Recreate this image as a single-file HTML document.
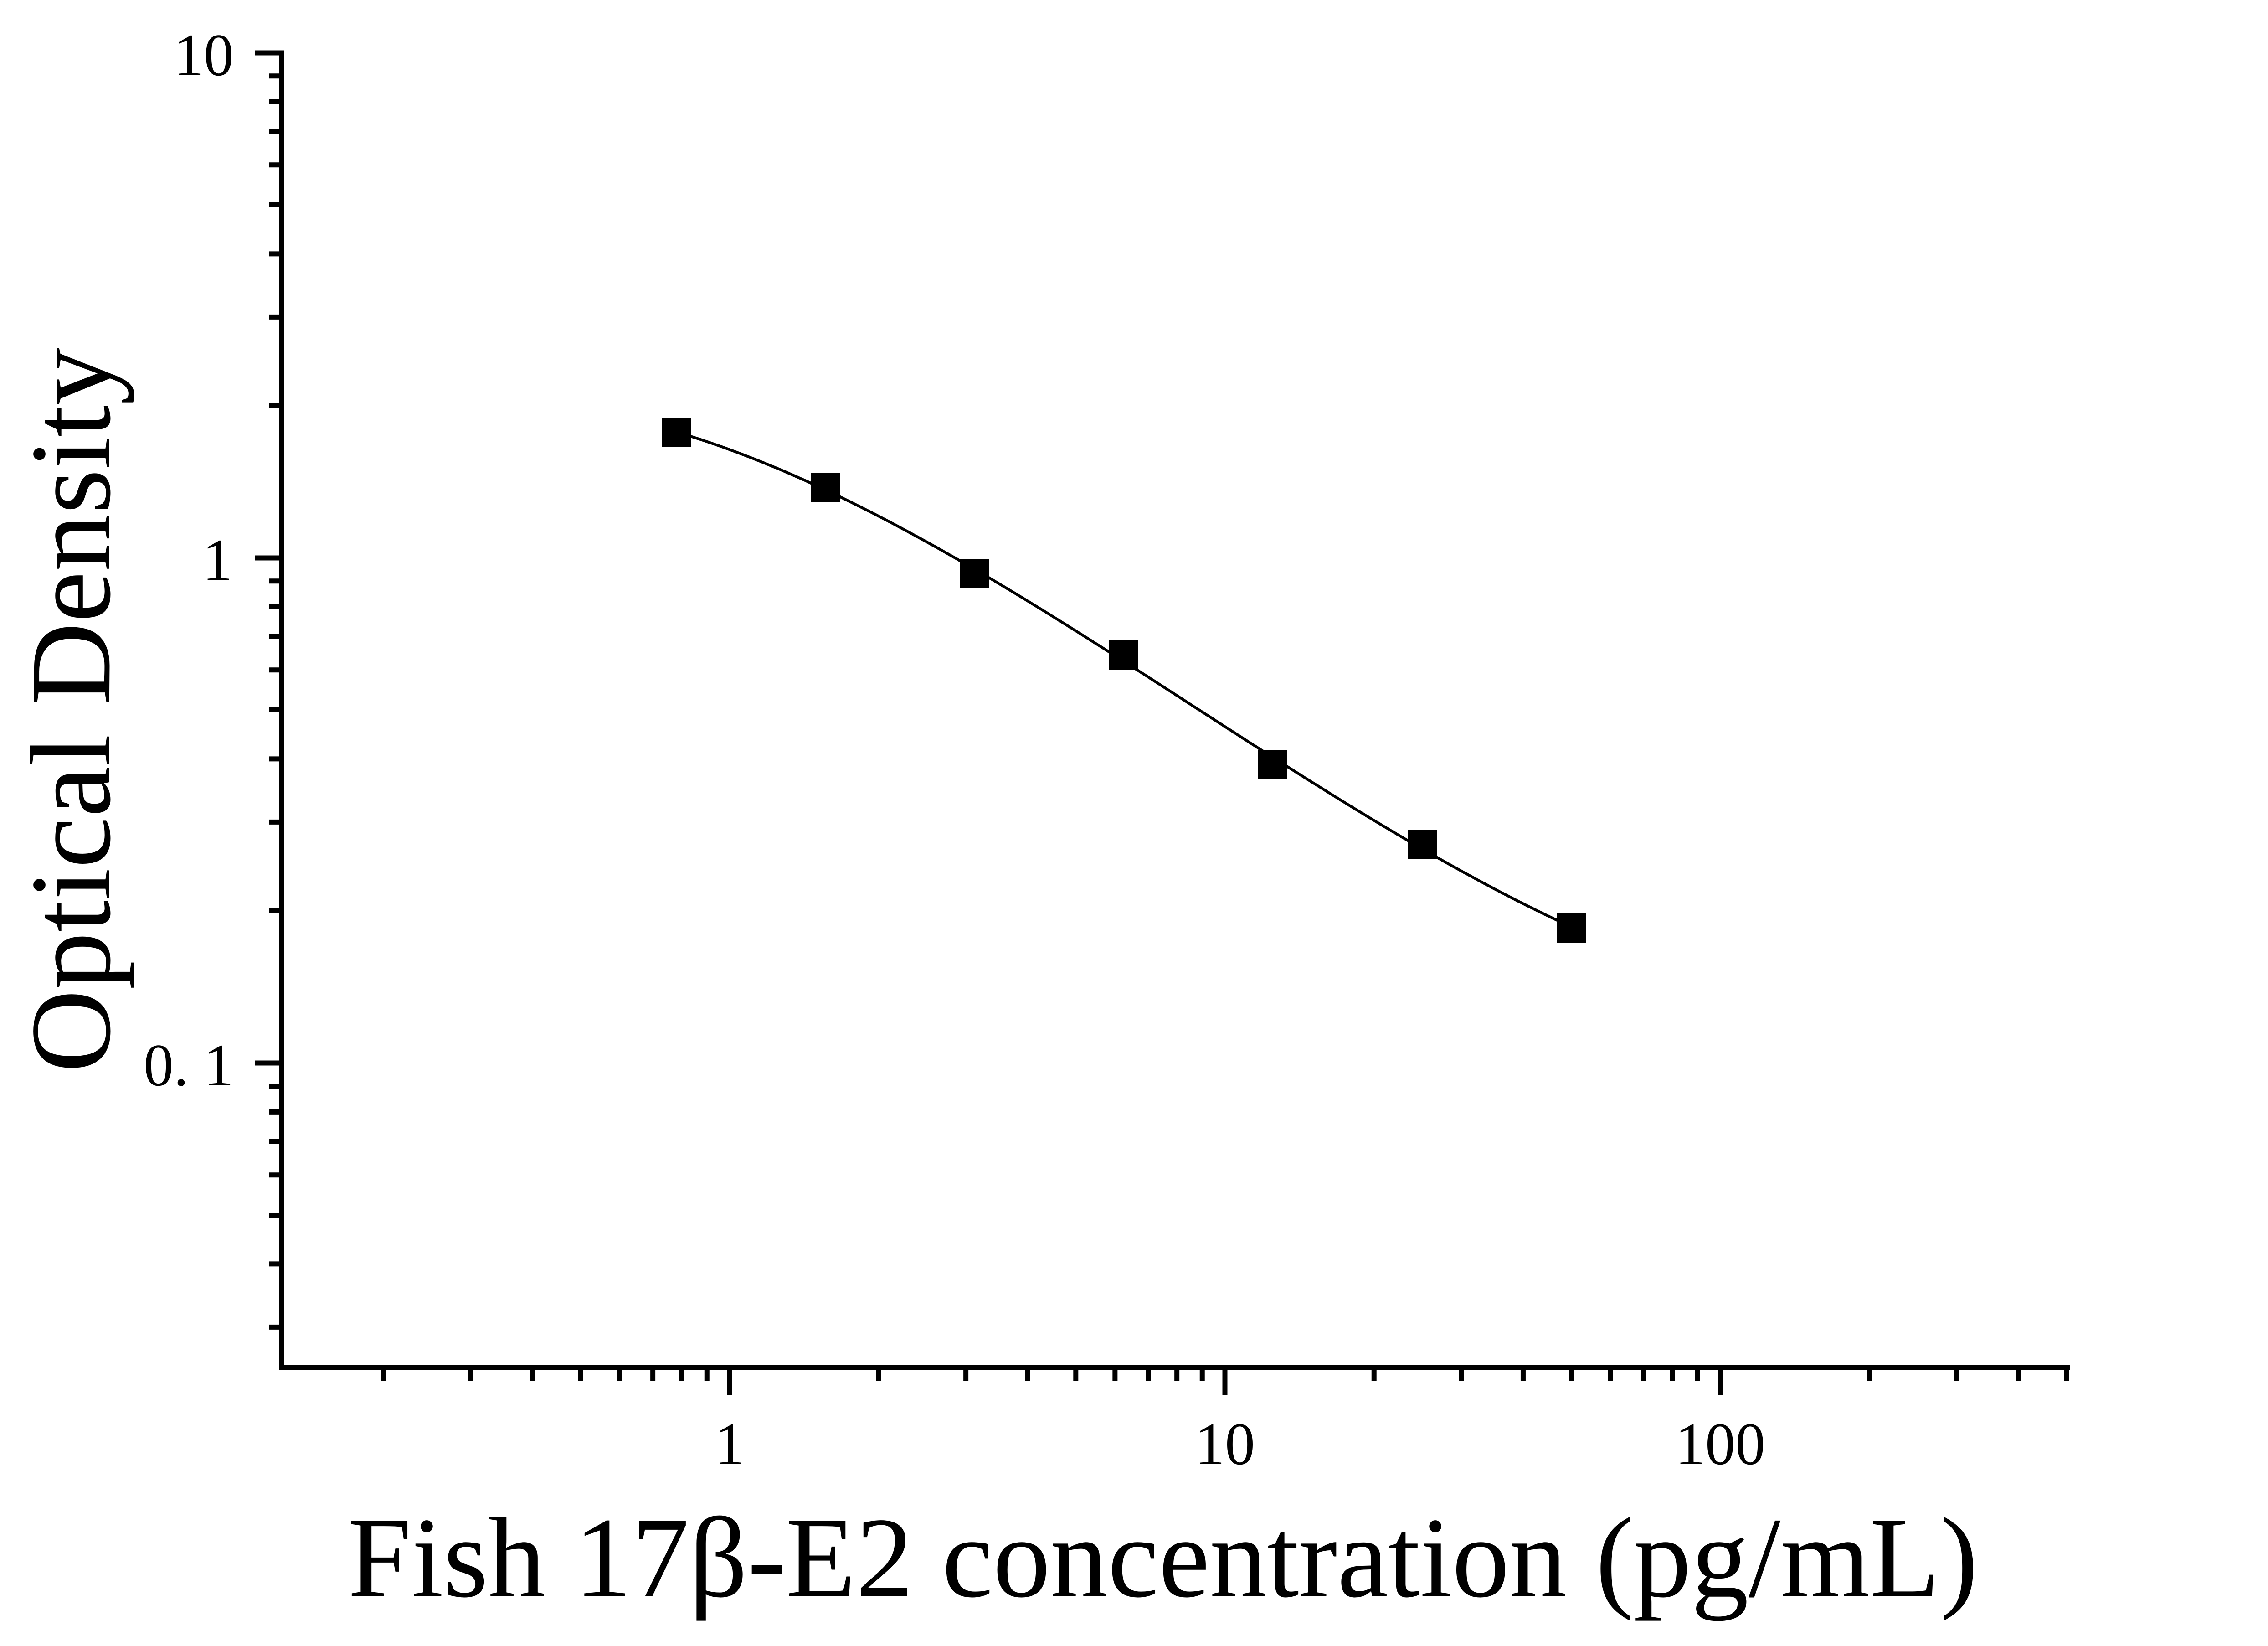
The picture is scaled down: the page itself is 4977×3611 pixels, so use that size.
<!DOCTYPE html>
<html><head><meta charset="utf-8"><style>
html,body{margin:0;padding:0;background:#fff;}
svg{display:block;}
text{font-family:"Liberation Serif","Times New Roman",serif;fill:#000;}
</style></head><body>
<svg id="s" width="4977" height="3611" viewBox="0 0 4977 3611" xmlns="http://www.w3.org/2000/svg">
<rect width="4977" height="3611" fill="#fff"/>
<g id="ticks" stroke="#000" stroke-width="11" fill="none"></g>
<line x1="618" y1="111" x2="618" y2="3005" stroke="#000" stroke-width="11"/>
<line x1="613" y1="3000" x2="4543" y2="3000" stroke="#000" stroke-width="11"/>
<g font-size="132" text-anchor="end">
<text x="513" y="165">10</text>
<text x="510" y="1273">1</text>
<text x="513" y="2381">0. 1</text>
</g>
<g font-size="132" text-anchor="middle">
<text x="1601" y="3212">1</text>
<text x="2688" y="3212">10</text>
<text x="3775" y="3212">100</text>
</g>
<text x="763" y="3502" font-size="252" textLength="3578" lengthAdjust="spacingAndGlyphs">Fish 17β-E2 concentration (pg/mL)</text>
<text transform="translate(240,2353) rotate(-90)" x="0" y="0" font-size="252" textLength="1590" lengthAdjust="spacingAndGlyphs">Optical Density</text>
<path id="curve" d="" fill="none" stroke="#000" stroke-width="6"/>
<g fill="#000">
<rect x="1452" y="917" width="64" height="64"/>
<rect x="1780" y="1037" width="64" height="64"/>
<rect x="2107" y="1227" width="64" height="64"/>
<rect x="2434" y="1405" width="64" height="64"/>
<rect x="2761" y="1645" width="64" height="64"/>
<rect x="3089" y="1820" width="64" height="64"/>
<rect x="3416" y="2004" width="64" height="64"/>
</g>
</svg>
<script>
var g=document.getElementById('ticks'),o='';
function L(a,b,c,d){o+='<line x1="'+a+'" y1="'+b+'" x2="'+c+'" y2="'+d+'"/>';}
for(var dec=-2;dec<=0;dec++){for(var m=1;m<=9;m++){var v=dec+Math.log10(m);var y=1224-v*1108; if(y>2995||y<110)continue; if(m==1)L(560,y,618,y);else L(590,y,618,y);}}
L(560,116,623,116);
for(var dec=-1;dec<=2;dec++){for(var m=1;m<=9;m++){var v=dec+Math.log10(m);var x=1601+v*1087;if(x<625||x>4545)continue;if(m==1)L(x,3000,x,3061);else L(x,3000,x,3030);}}
g.innerHTML=o;
// cubic least-squares fit
var X=[1484,1812,2139,2466,2793,3121,3448],Y=[949,1069,1259,1437,1677,1852,2036];
var n=4,A=[],B=[];for(var i=0;i<n;i++){A.push([0,0,0,0]);B.push(0);}
for(var k=0;k<X.length;k++){var t=(X[k]-2466)/1000;for(var i=0;i<n;i++){B[i]+=Y[k]*Math.pow(t,i);for(var j=0;j<n;j++)A[i][j]+=Math.pow(t,i+j);}}
for(var i=0;i<n;i++){for(var r=i+1;r<n;r++){var f=A[r][i]/A[i][i];for(var j=i;j<n;j++)A[r][j]-=f*A[i][j];B[r]-=f*B[i];}}
var c=[0,0,0,0];for(var i=n-1;i>=0;i--){var s=B[i];for(var j=i+1;j<n;j++)s-=A[i][j]*c[j];c[i]=s/A[i][i];}
var d='';for(var x=1484;x<=3448;x+=8){var t=(x-2466)/1000;var y=c[0]+c[1]*t+c[2]*t*t+c[3]*t*t*t;d+=(d?'L':'M')+x+','+y.toFixed(1);}
document.getElementById('curve').setAttribute('d',d);
</script>
</body></html>
